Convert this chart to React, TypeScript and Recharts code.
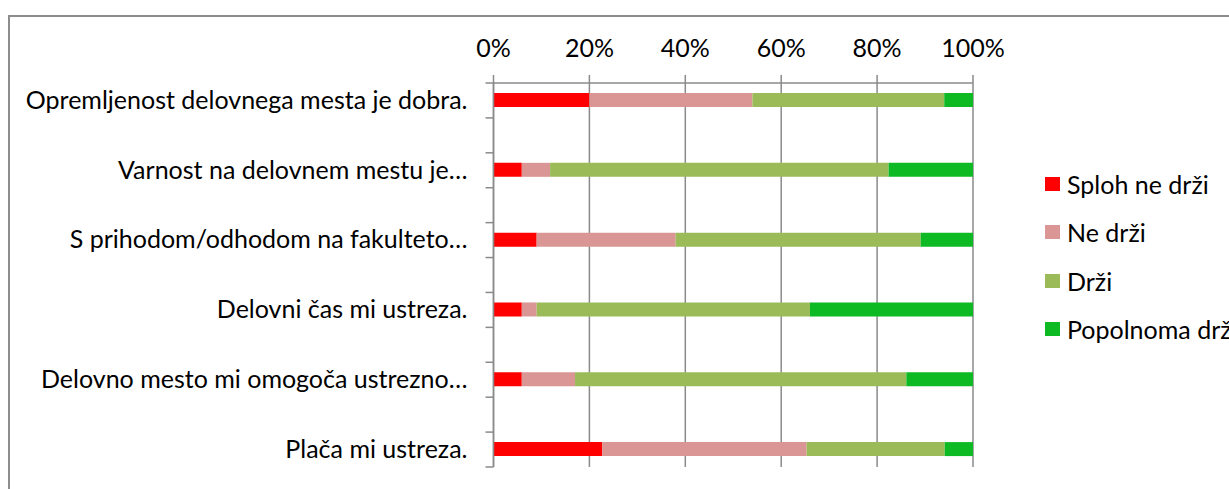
import { BarChart, Bar, XAxis, YAxis, CartesianGrid } from "recharts"

// empty rows sit between the questions, like in the source sheet
const questions = [
  "Opremljenost delovnega mesta je dobra.",
  "",
  "Varnost na delovnem mestu je…",
  "",
  "S prihodom/odhodom na fakulteto…",
  "",
  "Delovni čas mi ustreza.",
  "",
  "Delovno mesto mi omogoča ustrezno…",
  "",
  "Plača mi ustreza.",
]

const splohNeDrzi = [20, null, 5.9, null, 9, null, 5.9, null, 5.9, null, 22.7]
const neDrzi = [34, null, 5.9, null, 29, null, 3.1, null, 11.1, null, 42.6]
const drzi = [40, null, 70.6, null, 51.1, null, 57, null, 69.1, null, 28.8]
const popolnomaDrzi = [6, null, 17.6, null, 10.9, null, 34, null, 13.9, null, 5.9]

const percentTicks = [0, 20, 40, 60, 80, 100]

const SERIES = [
  { key: "sploh", name: "Sploh ne drži", color: "#FF0000" },
  { key: "ne", name: "Ne drži", color: "#D99694" },
  { key: "drzi", name: "Drži", color: "#9BBB59" },
  { key: "popolnoma", name: "Popolnoma drži", color: "#0DBA24" },
]

const FONT = "Lato, sans-serif"
const FONT_SIZE = 25
const GRID = "#8a8a8a"

const data = questions.map((name, i) => ({
  name,
  sploh: splohNeDrzi[i],
  ne: neDrzi[i],
  drzi: drzi[i],
  popolnoma: popolnomaDrzi[i],
}))

function PercentTick({ x, y, payload }: any) {
  return (
    <text x={x} y={y} textAnchor="middle" fontFamily={FONT} fontSize={FONT_SIZE} fill="#000">
      {`${payload.value}%`}
    </text>
  )
}

function QuestionTick({ x, y, payload, index, visibleTicksCount }: any) {
  const half = payload.offset || 17.45
  const axisX = x + 26
  const last = index === (visibleTicksCount ?? questions.length) - 1
  return (
    <g>
      <line x1={axisX - 8} x2={axisX} y1={y - half} y2={y - half} stroke={GRID} strokeWidth={1.5} />
      {last && (
        <line x1={axisX - 8} x2={axisX} y1={y + half} y2={y + half} stroke={GRID} strokeWidth={1.5} />
      )}
      {payload.value && (
        <text x={x} y={y} dy="0.33em" textAnchor="end" fontFamily={FONT} fontSize={FONT_SIZE} fill="#000">
          {payload.value}
        </text>
      )}
    </g>
  )
}

export default function App() {
  return (
    <div
      style={{
        position: "absolute",
        left: 0,
        top: 0,
        width: 1229,
        height: 489,
        overflow: "hidden",
        background: "#fff",
      }}
    >
      {/* chart frame, only its left and top edges are in view */}
      <div
        style={{
          position: "absolute",
          left: 8,
          top: 15,
          width: 1400,
          height: 700,
          borderLeft: "2px solid #8d8d8d",
          borderTop: "2px solid #8d8d8d",
        }}
      />
      <div style={{ position: "absolute", left: 0, top: 0 }}>
        <BarChart
          width={1229}
          height={489}
          data={data}
          layout="vertical"
          margin={{ top: 0, right: 256, bottom: 22, left: 0 }}
          barSize={14}
        >
          <CartesianGrid horizontal={false} stroke={GRID} strokeWidth={1.5} />
          <XAxis
            type="number"
            orientation="top"
            domain={[0, 100]}
            ticks={percentTicks}
            height={83}
            tickSize={8}
            tickMargin={18}
            axisLine={{ stroke: GRID, strokeWidth: 1.5 }}
            tickLine={{ stroke: GRID, strokeWidth: 1.5 }}
            tick={<PercentTick />}
          />
          <YAxis
            type="category"
            dataKey="name"
            width={493.5}
            interval={0}
            tickSize={8}
            tickMargin={18}
            tickLine={false}
            axisLine={{ stroke: GRID, strokeWidth: 1.5 }}
            tick={<QuestionTick />}
          />
          {SERIES.map((s) => (
            <Bar key={s.key} dataKey={s.key} name={s.name} stackId="a" fill={s.color} isAnimationActive={false} />
          ))}
        </BarChart>
      </div>
      {/* legend, runs past the right edge like the original */}
      <div
        style={{
          position: "absolute",
          left: 1045,
          top: 160,
          fontFamily: FONT,
          fontSize: FONT_SIZE,
          color: "#000",
          whiteSpace: "nowrap",
        }}
      >
        {SERIES.map((s) => (
          <div key={s.key} style={{ height: 48.3, display: "flex", alignItems: "center" }}>
            <span style={{ width: 15, height: 14, background: s.color, marginRight: 7, flexShrink: 0 }} />
            <span>{s.name}</span>
          </div>
        ))}
      </div>
    </div>
  )
}
